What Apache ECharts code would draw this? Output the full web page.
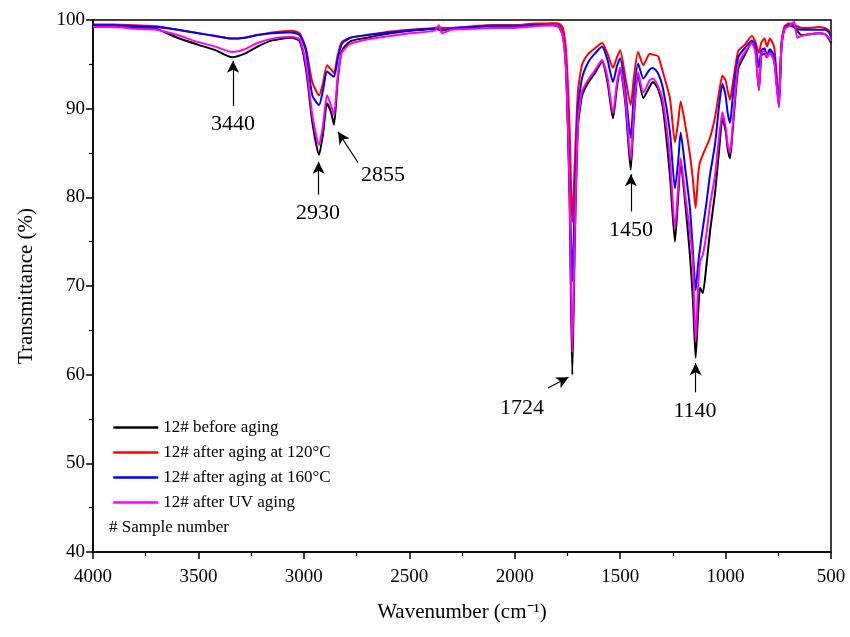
<!DOCTYPE html>
<html>
<head>
<meta charset="utf-8">
<title>FTIR</title>
<script src="https://cdn.jsdelivr.net/npm/echarts@6/dist/echarts.min.js"></script>
<style>
  html, body { margin: 0; padding: 0; background: #fff; }
  #chart { width: 850px; height: 637px; }
</style>
</head>
<body>
<div id="chart"></div>
<script>
// wavenumber (cm-1)
const wavenumbers = [4000, 3900, 3800, 3700, 3600, 3500, 3420, 3340, 3280, 3220, 3150, 3060, 3020, 2990, 2960, 2928, 2910, 2890, 2870, 2857, 2840, 2820, 2780, 2700, 2590, 2500, 2380, 2360, 2345, 2300, 2200, 2100, 2000, 1900, 1820, 1790, 1770, 1755, 1740, 1727, 1715, 1700, 1680, 1650, 1620, 1586, 1560, 1534, 1515, 1500, 1475, 1450, 1435, 1415, 1390, 1360, 1344, 1320, 1297, 1264, 1240, 1225, 1213, 1190, 1169, 1155, 1142, 1130, 1121, 1108, 1090, 1074, 1050, 1030, 1015, 1000, 990, 979, 965, 940, 910, 875, 858, 842, 830, 815, 804, 790, 770, 758, 747, 735, 720, 700, 675, 660, 640, 600, 560, 530, 510, 500]

const beforeAging = [99.3, 99.3, 99.2, 99.0, 98.0, 97.2, 96.6, 95.8, 96.2, 97.0, 97.7, 98.0, 97.6, 94.5, 88.5, 84.8, 87.0, 90.6, 89.5, 88.2, 93.0, 96.5, 97.6, 98.0, 98.5, 98.8, 99.0, 99.1, 99.0, 99.1, 99.2, 99.4, 99.4, 99.5, 99.6, 99.5, 98.5, 94.0, 80.0, 60.0, 75.0, 88.0, 91.5, 93.0, 94.0, 95.3, 93.0, 88.9, 92.5, 94.6, 90.5, 83.1, 89.0, 93.8, 91.2, 92.5, 93.0, 92.2, 90.1, 82.5, 75.0, 80.0, 84.0, 79.0, 73.5, 68.5, 61.9, 67.0, 69.8, 69.2, 72.5, 76.1, 80.5, 85.5, 88.9, 87.5, 85.5, 84.4, 88.0, 94.5, 96.0, 97.5, 96.5, 92.1, 96.0, 96.2, 95.8, 96.4, 95.5, 93.0, 90.2, 97.0, 99.0, 99.4, 99.2, 98.8, 98.3, 98.4, 98.5, 98.4, 97.9, 97.4]
const aging120 = [99.5, 99.5, 99.4, 99.3, 98.9, 98.5, 98.2, 97.9, 98.0, 98.3, 98.6, 98.8, 98.5, 96.8, 93.0, 91.5, 92.8, 94.9, 94.4, 94.0, 96.0, 97.5, 98.0, 98.3, 98.7, 98.9, 99.1, 99.2, 99.1, 99.1, 99.3, 99.4, 99.4, 99.6, 99.6, 99.6, 99.0, 96.0, 88.0, 77.2, 84.0, 92.0, 95.0, 96.2, 96.8, 97.4, 96.2, 94.6, 95.8, 96.6, 93.5, 90.4, 93.5, 96.4, 94.9, 96.2, 96.1, 95.9, 94.1, 91.2, 86.2, 88.5, 90.8, 88.0, 84.8, 82.0, 78.8, 82.5, 84.0, 84.8, 85.8, 86.7, 89.0, 92.0, 93.7, 93.2, 92.0, 91.0, 93.0, 96.5, 97.2, 98.2, 97.5, 96.3, 97.5, 97.9, 97.0, 97.9, 97.0, 94.0, 91.0, 97.5, 99.3, 99.6, 99.5, 99.3, 99.1, 99.1, 99.2, 99.1, 98.8, 98.3]
const aging160 = [99.4, 99.4, 99.3, 99.2, 98.9, 98.5, 98.2, 97.9, 98.0, 98.3, 98.5, 98.6, 98.3, 96.5, 91.5, 90.4, 92.0, 94.2, 93.8, 93.6, 95.5, 97.3, 98.0, 98.3, 98.6, 98.8, 99.0, 98.9, 98.8, 99.0, 99.2, 99.3, 99.3, 99.4, 99.4, 99.2, 98.0, 93.5, 82.0, 70.5, 80.0, 90.0, 93.5, 95.3, 96.2, 97.0, 95.5, 93.0, 94.8, 95.7, 92.0, 86.7, 91.5, 95.1, 93.4, 94.4, 94.6, 94.0, 92.3, 87.4, 81.0, 84.0, 87.3, 83.0, 78.8, 74.0, 69.5, 72.5, 74.3, 76.5, 79.5, 82.5, 86.0, 90.5, 92.8, 91.5, 89.5, 88.4, 91.5, 95.8, 96.8, 97.7, 97.0, 94.7, 96.6, 96.8, 96.0, 96.7, 96.0, 93.0, 90.6, 97.0, 99.1, 99.4, 99.3, 99.0, 98.9, 98.9, 98.9, 98.9, 98.6, 98.1]
const agingUV = [99.2, 99.2, 99.0, 98.9, 98.3, 97.5, 97.0, 96.4, 96.7, 97.4, 97.9, 98.1, 97.8, 95.0, 89.3, 85.9, 88.0, 91.5, 90.3, 89.3, 93.5, 96.3, 97.3, 97.8, 98.2, 98.5, 98.8, 99.4, 98.5, 98.9, 99.0, 99.1, 99.1, 99.3, 99.4, 99.3, 98.0, 93.5, 81.0, 62.5, 76.0, 88.5, 92.0, 93.3, 94.3, 95.5, 93.5, 89.5, 93.0, 94.6, 91.0, 84.2, 89.5, 94.1, 91.8, 93.2, 93.4, 92.5, 90.8, 84.4, 76.5, 81.0, 84.4, 80.0, 76.1, 72.7, 63.7, 70.0, 72.7, 73.5, 76.0, 79.1, 82.5, 87.0, 89.6, 88.0, 86.0, 85.0, 88.5, 95.0, 96.3, 97.4, 96.3, 92.1, 96.3, 96.5, 95.8, 96.3, 95.3, 92.5, 90.2, 97.0, 99.0, 99.3, 99.8, 98.0, 98.2, 98.4, 98.5, 98.4, 98.0, 97.6]

const seriesNames = ['12# before aging', '12# after aging at 120°C', '12# after aging at 160°C', '12# after UV aging']
const seriesColors = ['#000000', '#ff0000', '#0000ff', '#ff00ff']
const seriesValues = [beforeAging, aging120, aging160, agingUV]

// peak labels: [wavenumber, T, text]
const peakLabels = [
  [3336, 88.3, '3440'],
  [2933, 78.2, '2930'],
  [2625, 82.5, '2855'],
  [1965, 56.2, '1724'],
  [1449, 76.3, '1450'],
  [1145, 55.9, '1140']
]
// arrows: [tail wn, tail T, head wn, head T]
const peakArrows = [
  [3336, 90.3, 3336, 95.4],
  [2930, 80.3, 2930, 84.0],
  [2743, 83.9, 2838, 87.4],
  [1842, 58.5, 1745, 59.7],
  [1449, 78.4, 1449, 82.6],
  [1142, 58.0, 1142, 61.3]
]

const chart = echarts.init(document.getElementById('chart'))
const font = 'Liberation Serif'

const lineSeries = seriesNames.map((name, i) => {
  return {
    name: name,
    type: 'line',
    symbol: 'none',
    smooth: 0.2,
    lineStyle: { color: seriesColors[i], width: 2 },
    itemStyle: { color: seriesColors[i] },
    data: wavenumbers.map((w, k) => [w, seriesValues[i][k]]),
    z: 2 + i
  }
})

const option = {
  backgroundColor: '#fff',
  animation: false,
  grid: {
    left: 93,
    right: 19,
    top: 20,
    bottom: 85,
    show: true,
    borderColor: '#000',
    borderWidth: 1.5
  },
  legend: {
    data: seriesNames,
    orient: 'vertical',
    left: 107,
    top: 414,
    itemWidth: 45,
    itemHeight: 16,
    itemGap: 8,
    itemStyle: { opacity: 0 },
    lineStyle: { width: 2.5 },
    textStyle: { fontFamily: font, fontSize: 17, color: '#000' }
  },
  graphic: [
    {
      type: 'text',
      left: 109,
      top: 519,
      style: { text: '# Sample number', font: '17px ' + font, fill: '#000' }
    }
  ],
  xAxis: {
    type: 'value',
    inverse: true,
    min: 500,
    max: 4000,
    interval: 500,
    name: 'Wavenumber (cm⁻¹)',
    nameLocation: 'middle',
    nameGap: 50,
    nameTextStyle: { fontFamily: font, fontSize: 21, color: '#000' },
    axisLine: { lineStyle: { color: '#000', width: 1.5 } },
    axisTick: { inside: false, length: 7, lineStyle: { color: '#000', width: 1.5 } },
    minorTick: { show: true, splitNumber: 2, length: 4, lineStyle: { color: '#000', width: 1.2 } },
    axisLabel: { fontFamily: font, fontSize: 19, color: '#000', margin: 16, formatter: (v) => String(v) },
    splitLine: { show: false }
  },
  yAxis: {
    type: 'value',
    min: 40,
    max: 100,
    interval: 10,
    name: 'Transmittance (%)',
    nameLocation: 'middle',
    nameGap: 56,
    nameTextStyle: { fontFamily: font, fontSize: 21, color: '#000' },
    axisLine: { show: true, lineStyle: { color: '#000', width: 1.5 } },
    axisTick: { show: true, inside: false, length: 7, lineStyle: { color: '#000', width: 1.5 } },
    minorTick: { show: true, splitNumber: 2, length: 4, lineStyle: { color: '#000', width: 1.2 } },
    axisLabel: { fontFamily: font, fontSize: 19, color: '#000', margin: 8, formatter: (v) => String(v) },
    splitLine: { show: false }
  },
  series: lineSeries.concat([
    {
      name: 'peaks',
      type: 'scatter',
      symbolSize: 1,
      itemStyle: { color: 'transparent' },
      silent: true,
      z: 10,
      label: {
        show: true,
        position: 'inside',
        fontFamily: font,
        fontSize: 22,
        color: '#000',
        opacity: 1,
        textBorderWidth: 0,
        formatter: (p) => p.data[2]
      },
      data: peakLabels,
      markLine: {
        silent: true,
        symbol: ['none', 'arrow'],
        symbolSize: [9, 12],
        lineStyle: { color: '#000', width: 1.2, type: 'solid' },
        label: { show: false },
        data: peakArrows.map((a) => [{ coord: [a[0], a[1]] }, { coord: [a[2], a[3]] }])
      }
    }
  ])
}

chart.setOption(option)
</script>
</body>
</html>
